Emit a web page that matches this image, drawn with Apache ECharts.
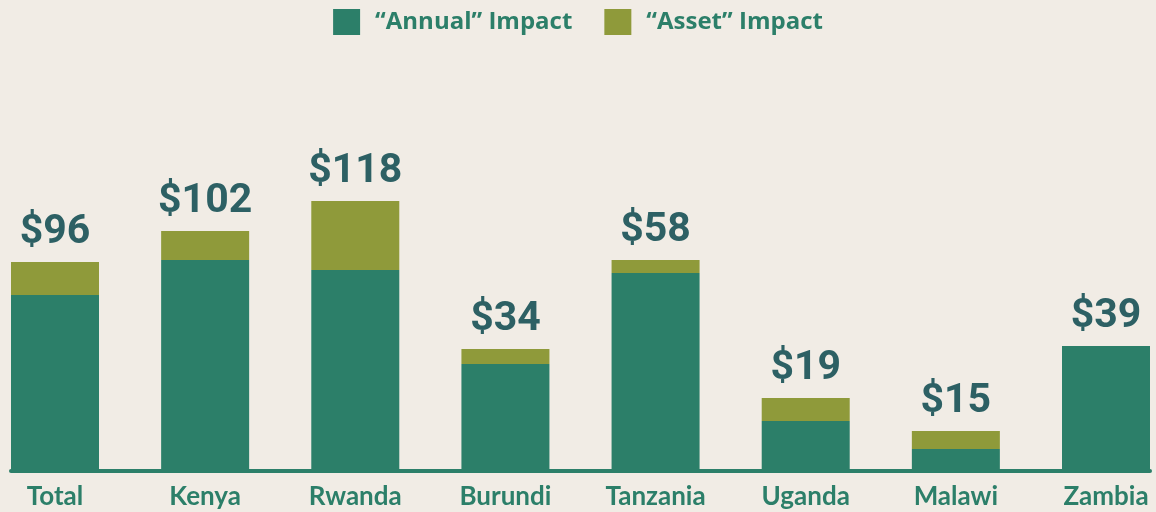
<!DOCTYPE html>
<html>
<head>
<meta charset="utf-8">
<script src="https://cdn.jsdelivr.net/npm/echarts@6/dist/echarts.min.js"></script>
<style>
  html, body { margin: 0; padding: 0; background: #f1ece5; }
  #chart { width: 1156px; height: 512px; }
</style>
</head>
<body>
<div id="chart"></div>
<script>
// categories and bar segments (heights, same unit for all bars)
var countries = ['Total', 'Kenya', 'Rwanda', 'Burundi', 'Tanzania', 'Uganda', 'Malawi', 'Zambia'];
var annualImpact = [174, 209, 199, 105, 196, 48, 20, 123];
var assetImpact = [33, 29, 69, 15, 13, 23, 18, 0];
// totals printed above the bars
var totalLabels = ['$96', '$102', '$118', '$34', '$58', '$19', '$15', '$39'];

var green = '#2c7f69';
var olive = '#8f9a3a';

var myChart = echarts.init(document.getElementById('chart'));
var option = {
    backgroundColor: '#f1ece5',
    animation: false,
    legend: {
        top: 4,
        left: 'center',
        itemWidth: 27,
        itemHeight: 26,
        itemGap: 32,
        icon: 'rect',
        textStyle: {
            color: green,
            fontFamily: 'Open Sans',
            fontWeight: 'bold',
            fontSize: 24,
            padding: [0, 0, 0, 10]
        },
        data: ['\u201CAnnual\u201D Impact', '\u201CAsset\u201D Impact']
    },
    grid: [
        { left: 55, right: 50, top: 169, bottom: 43 },
        // only used for the baseline that runs past the outer bars
        { left: 11, right: 6, top: 169, bottom: 41 }
    ],
    xAxis: [
        {
            type: 'category',
            gridIndex: 0,
            boundaryGap: false,
            data: countries,
            axisLine: { show: false },
            axisTick: { show: false },
            axisLabel: {
                margin: 15,
                color: green,
                fontFamily: 'Lato',
                fontWeight: 'bold',
                fontSize: 26
            }
        },
        {
            type: 'value',
            gridIndex: 1,
            min: 0,
            max: 1,
            axisLine: { show: true, lineStyle: { color: green, width: 4 } },
            axisTick: { show: false },
            axisLabel: { show: false },
            splitLine: { show: false }
        }
    ],
    yAxis: [
        { type: 'value', gridIndex: 0, min: 0, max: 300, show: false },
        { type: 'value', gridIndex: 1, min: 0, max: 1, show: false }
    ],
    series: [
        {
            name: '\u201CAnnual\u201D Impact',
            type: 'bar',
            stack: 'impact',
            barWidth: 88,
            clip: false,
            itemStyle: { color: green },
            data: annualImpact
        },
        {
            name: '\u201CAsset\u201D Impact',
            type: 'bar',
            stack: 'impact',
            barWidth: 88,
            clip: false,
            itemStyle: { color: olive },
            label: {
                show: true,
                position: 'top',
                distance: 9,
                color: '#2d6064',
                fontFamily: 'Roboto',
                fontWeight: 'bold',
                fontSize: 41,
                formatter: function (p) { return totalLabels[p.dataIndex]; }
            },
            data: assetImpact
        }
    ]
};
myChart.setOption(option);
</script>
</body>
</html>
